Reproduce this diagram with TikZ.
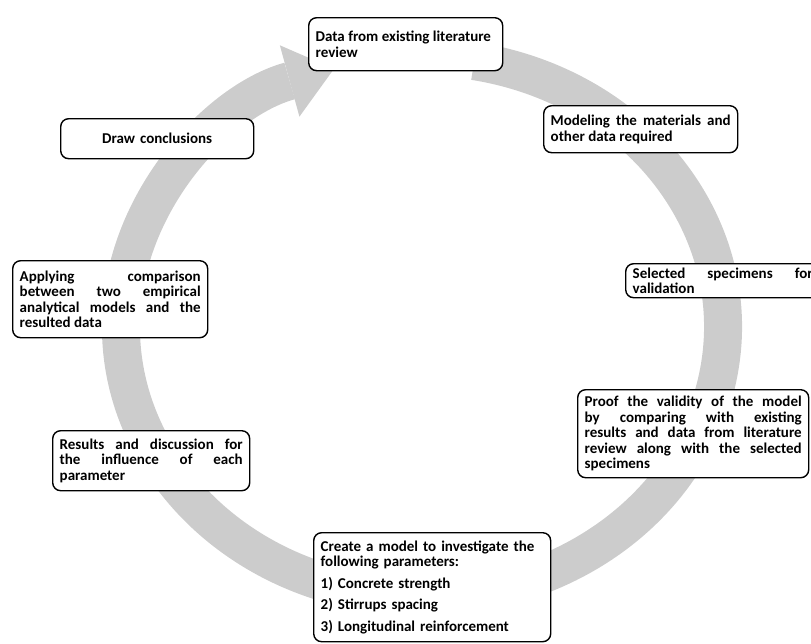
\documentclass[tikz,border=0pt]{standalone}
\usepackage{fontspec}
\setmainfont{Carlito}
\usetikzlibrary{arrows.meta}

\tikzset{
  stepbox/.style={draw, line width=1.4pt, rounded corners=8pt, fill=white,
    anchor=north west, inner xsep=7pt, inner ysep=3pt, align=justify,
    font=\bfseries\fontsize{15}{15.5}\selectfont},
  cyclering/.style={draw=gray!40, line width=38pt}
}

\begin{document}
\begin{tikzpicture}[x=1pt,y=-1pt]
\useasboundingbox (0,0) rectangle (811,643);
\clip (0,0) rectangle (811,643);
% Cycle
\coordinate (c) at (422,327);
\draw[cyclering, -{Triangle[length=46pt,width=74pt,line width=0pt]}]
  (c) ++(-80:301 and 270) arc[start angle=-80, end angle=253, x radius=301, y radius=270];
% Steps
\node[stepbox, text width=180pt, minimum height=53pt] (lit) at (308,17)
  {Data from existing literature\\review};
\node[stepbox, text width=180pt, minimum height=47pt] (model) at (543,105)
  {Modeling the materials and\linebreak other data required};
\node[stepbox, text width=180pt, minimum height=34pt] (spec) at (625,263)
  {Selected specimens for\linebreak validation};
\node[stepbox, text width=217pt, minimum height=88pt] (proof) at (577,389)
  {Proof the validity of the model\linebreak by comparing with existing\linebreak
   results and data from literature\linebreak review along with the selected\linebreak specimens};
\node[stepbox, text width=223pt, minimum height=109pt, align=left] (param) at (313,532)
  {Create a model to investigate the\\following parameters:\\[6pt]
   1) Concrete strength\\[6pt]2) Stirrups spacing\\[6pt]3) Longitudinal reinforcement};
\node[stepbox, text width=183pt, minimum height=60pt] (result) at (52,430)
  {Results and discussion for\linebreak the influence of each\linebreak parameter};
\node[stepbox, text width=181pt, minimum height=77pt] (compare) at (12,260)
  {Applying comparison\linebreak between two empirical\linebreak analytical models and the\linebreak resulted data};
\node[stepbox, text width=179pt, minimum height=40pt, align=center] (concl) at (60,118)
  {Draw conclusions};
\end{tikzpicture}
\end{document}
